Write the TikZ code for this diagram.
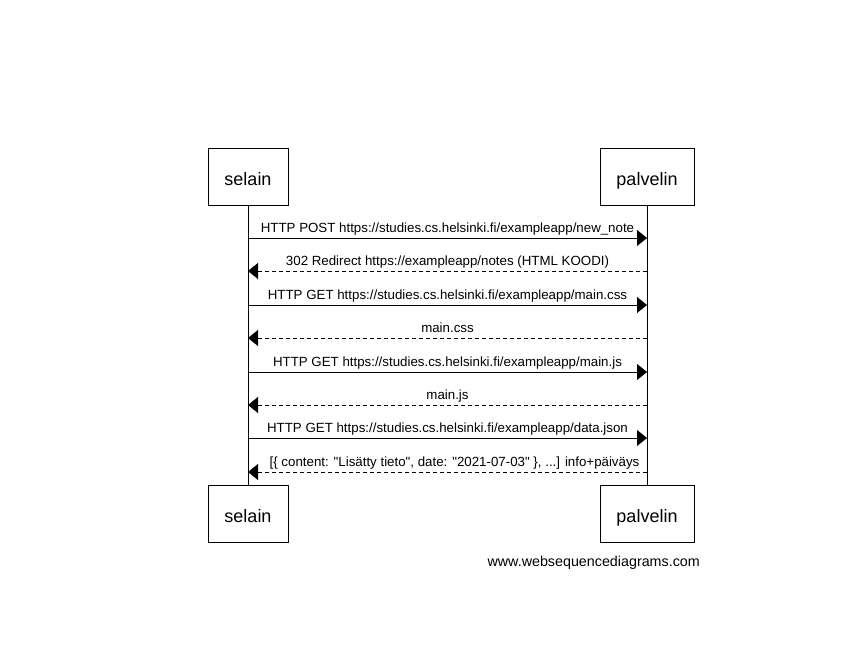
\documentclass[tikz,border=0pt]{standalone}
\usepackage{fontspec}
\setmainfont{Liberation Sans}
\usetikzlibrary{arrows.meta}
\tikzset{
  actor/.style={draw, thin, minimum height=57pt, inner sep=0pt, text height=17pt, text depth=0pt, font=\fontsize{18}{20}\selectfont},
  msg/.style={thin, -{Triangle[length=10pt, width=16pt]}},
  reply/.style={msg, dash pattern=on 4pt off 3pt},
  msglabel/.style={anchor=base, inner sep=0pt, yshift=5.5pt, font=\fontsize{13.3}{15}\selectfont}
}
\begin{document}
\begin{tikzpicture}[x=1pt, y=-1pt]
\useasboundingbox (0,0) rectangle (866,669);
% participants
\node [actor, minimum width=80pt] (selaintop) at (248,176.5) {selain};
\node [actor, minimum width=94pt] (palvelintop) at (647,176.5) {palvelin};
\node [actor, minimum width=80pt] (selainbot) at (248,514) {selain};
\node [actor, minimum width=94pt] (palvelinbot) at (647,514) {palvelin};
\draw [thin] (selaintop.south) -- (selainbot.north);
\draw [thin] (palvelintop.south) -- (palvelinbot.north);
% points on the lifelines
\coordinate (s1) at (248,238); \coordinate (p1) at (647,238);
\coordinate (s2) at (248,271); \coordinate (p2) at (647,271);
\coordinate (s3) at (248,305); \coordinate (p3) at (647,305);
\coordinate (s4) at (248,338); \coordinate (p4) at (647,338);
\coordinate (s5) at (248,372); \coordinate (p5) at (647,372);
\coordinate (s6) at (248,405); \coordinate (p6) at (647,405);
\coordinate (s7) at (248,438); \coordinate (p7) at (647,438);
\coordinate (s8) at (248,472); \coordinate (p8) at (647,472);
% messages
\draw [msg] (s1) -- node [msglabel] {HTTP POST https://studies.cs.helsinki.fi/exampleapp/new\_note} (p1);
\draw [reply] (p2) -- node [msglabel] {302 Redirect https://exampleapp/notes (HTML KOODI)} (s2);
\draw [msg] (s3) -- node [msglabel] {HTTP GET https://studies.cs.helsinki.fi/exampleapp/main.css} (p3);
\draw [reply] (p4) -- node [msglabel] {main.css} (s4);
\draw [msg] (s5) -- node [msglabel] {HTTP GET https://studies.cs.helsinki.fi/exampleapp/main.js} (p5);
\draw [reply] (p6) -- node [msglabel] {main.js} (s6);
\draw [msg] (s7) -- node [msglabel] {HTTP GET https://studies.cs.helsinki.fi/exampleapp/data.json} (p7);
\draw [reply] (p8) -- node [msglabel, xshift=7pt] {[\{ content: \textquotedbl Lisätty tieto\textquotedbl, date: \textquotedbl 2021-07-03\textquotedbl\ \}, ...] info+päiväys} (s8);
% footer
\node [anchor=base east, inner sep=0pt, font=\fontsize{14.3}{16}\selectfont] (footer) at (700,566) {www.websequencediagrams.com};
\end{tikzpicture}
\end{document}
